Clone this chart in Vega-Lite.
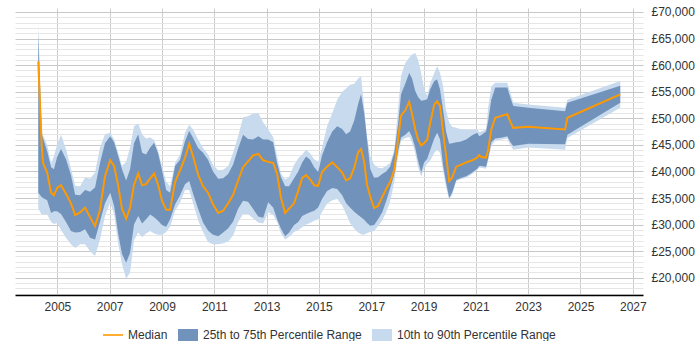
{
  "$schema": "https://vega.github.io/schema/vega-lite/v6.json",
  "width": 628,
  "height": 287,
  "padding": {"left": 15, "top": 5, "right": 0, "bottom": 0},
  "background": "white",
  "config": {
    "view": {"stroke": null},
    "font": "Liberation Sans",
    "axis": {"labelFont": "Liberation Sans", "labelFontSize": 12, "labelColor": "#333333"},
    "legend": {"labelFont": "Liberation Sans", "labelFontSize": 12, "labelColor": "#333333"}
  },
  "data": {
    "values": [
      {"t": 2004.27, "p10": 33000, "p25": 36000, "med": 60700, "p75": 66000, "p90": 67800},
      {"t": 2004.40, "p10": 31900, "p25": 35200, "med": 44900, "p75": 47000, "p90": 47500},
      {"t": 2004.45, "p10": 31900, "p25": 35000, "med": 41600, "p75": 46300, "p90": 46800},
      {"t": 2004.61, "p10": 31900, "p25": 34600, "med": 39800, "p75": 43800, "p90": 45000},
      {"t": 2004.76, "p10": 30500, "p25": 32200, "med": 36000, "p75": 40800, "p90": 41500},
      {"t": 2004.87, "p10": 30100, "p25": 32500, "med": 35500, "p75": 40400, "p90": 42900},
      {"t": 2004.99, "p10": 30300, "p25": 32500, "med": 36900, "p75": 42700, "p90": 45000},
      {"t": 2005.14, "p10": 29000, "p25": 32000, "med": 37400, "p75": 44200, "p90": 46900},
      {"t": 2005.33, "p10": 27500, "p25": 30500, "med": 35800, "p75": 42300, "p90": 44200},
      {"t": 2005.52, "p10": 26300, "p25": 28800, "med": 34000, "p75": 39300, "p90": 40500},
      {"t": 2005.68, "p10": 25600, "p25": 28500, "med": 31800, "p75": 35600, "p90": 37300},
      {"t": 2005.87, "p10": 26300, "p25": 28600, "med": 32300, "p75": 35500, "p90": 37200},
      {"t": 2006.06, "p10": 26300, "p25": 29100, "med": 33200, "p75": 36500, "p90": 38900},
      {"t": 2006.25, "p10": 25000, "p25": 27500, "med": 31400, "p75": 36200, "p90": 38600},
      {"t": 2006.44, "p10": 24100, "p25": 27200, "med": 29700, "p75": 37000, "p90": 39800},
      {"t": 2006.63, "p10": 27200, "p25": 30600, "med": 32800, "p75": 41600, "p90": 44500},
      {"t": 2006.82, "p10": 31600, "p25": 34000, "med": 39100, "p75": 45300, "p90": 47000},
      {"t": 2007.02, "p10": 34100, "p25": 36000, "med": 42100, "p75": 46600, "p90": 47300},
      {"t": 2007.17, "p10": 32000, "p25": 33500, "med": 41000, "p75": 45500, "p90": 46000},
      {"t": 2007.32, "p10": 26600, "p25": 28400, "med": 37500, "p75": 43000, "p90": 43600},
      {"t": 2007.47, "p10": 22600, "p25": 24500, "med": 33000, "p75": 40400, "p90": 41000},
      {"t": 2007.63, "p10": 19800, "p25": 22800, "med": 31100, "p75": 38300, "p90": 41800},
      {"t": 2007.78, "p10": 21000, "p25": 24700, "med": 33200, "p75": 40400, "p90": 44500},
      {"t": 2007.93, "p10": 27000, "p25": 30000, "med": 37500, "p75": 45300, "p90": 48500},
      {"t": 2008.09, "p10": 28500, "p25": 31600, "med": 39600, "p75": 47000, "p90": 49000},
      {"t": 2008.24, "p10": 27600, "p25": 30200, "med": 37400, "p75": 43500, "p90": 47000},
      {"t": 2008.39, "p10": 28300, "p25": 31000, "med": 37600, "p75": 43200, "p90": 46200},
      {"t": 2008.55, "p10": 28800, "p25": 31900, "med": 38700, "p75": 44500, "p90": 46400},
      {"t": 2008.70, "p10": 28300, "p25": 31400, "med": 39600, "p75": 45400, "p90": 45900},
      {"t": 2008.85, "p10": 28100, "p25": 30700, "med": 37500, "p75": 43400, "p90": 43900},
      {"t": 2009.00, "p10": 28100, "p25": 29900, "med": 34500, "p75": 40200, "p90": 41000},
      {"t": 2009.16, "p10": 28600, "p25": 29600, "med": 32800, "p75": 36500, "p90": 38000},
      {"t": 2009.31, "p10": 29600, "p25": 31000, "med": 32800, "p75": 36000, "p90": 37200},
      {"t": 2009.50, "p10": 32600, "p25": 33800, "med": 38000, "p75": 41000, "p90": 41600},
      {"t": 2009.69, "p10": 34100, "p25": 35500, "med": 40200, "p75": 42200, "p90": 43200},
      {"t": 2009.88, "p10": 36500, "p25": 37600, "med": 42600, "p75": 45700, "p90": 47300},
      {"t": 2010.04, "p10": 36500, "p25": 38200, "med": 45200, "p75": 47600, "p90": 48800},
      {"t": 2010.19, "p10": 34000, "p25": 35800, "med": 42800, "p75": 46300, "p90": 47900},
      {"t": 2010.38, "p10": 30800, "p25": 33000, "med": 39400, "p75": 44400, "p90": 46000},
      {"t": 2010.57, "p10": 28600, "p25": 30400, "med": 37200, "p75": 43500, "p90": 44400},
      {"t": 2010.76, "p10": 26700, "p25": 28900, "med": 36000, "p75": 42200, "p90": 43200},
      {"t": 2010.95, "p10": 26300, "p25": 28100, "med": 33800, "p75": 40000, "p90": 41200},
      {"t": 2011.15, "p10": 26300, "p25": 27800, "med": 32200, "p75": 38600, "p90": 40200},
      {"t": 2011.34, "p10": 26500, "p25": 28500, "med": 32600, "p75": 38700, "p90": 40300},
      {"t": 2011.53, "p10": 26800, "p25": 29300, "med": 34000, "p75": 39500, "p90": 41000},
      {"t": 2011.72, "p10": 28000, "p25": 30600, "med": 35600, "p75": 41300, "p90": 43500},
      {"t": 2011.91, "p10": 30500, "p25": 33000, "med": 38300, "p75": 44300, "p90": 46600},
      {"t": 2012.10, "p10": 32000, "p25": 34500, "med": 40800, "p75": 46900, "p90": 50200},
      {"t": 2012.29, "p10": 32000, "p25": 34300, "med": 41900, "p75": 46100, "p90": 50400},
      {"t": 2012.48, "p10": 31200, "p25": 33000, "med": 43000, "p75": 46000, "p90": 50900},
      {"t": 2012.68, "p10": 30400, "p25": 31500, "med": 43300, "p75": 46600, "p90": 51000},
      {"t": 2012.87, "p10": 30200, "p25": 31300, "med": 42100, "p75": 46000, "p90": 49200},
      {"t": 2013.06, "p10": 32300, "p25": 34200, "med": 41800, "p75": 46000, "p90": 47900},
      {"t": 2013.25, "p10": 31800, "p25": 33200, "med": 41600, "p75": 45500, "p90": 46500},
      {"t": 2013.40, "p10": 30500, "p25": 31000, "med": 39600, "p75": 41600, "p90": 42900},
      {"t": 2013.55, "p10": 28300, "p25": 29200, "med": 35000, "p75": 38900, "p90": 39600},
      {"t": 2013.71, "p10": 27200, "p25": 27800, "med": 32200, "p75": 37200, "p90": 38500},
      {"t": 2013.86, "p10": 27700, "p25": 28500, "med": 33000, "p75": 37200, "p90": 39000},
      {"t": 2014.05, "p10": 28600, "p25": 29900, "med": 34000, "p75": 38700, "p90": 41200},
      {"t": 2014.21, "p10": 29000, "p25": 30500, "med": 36400, "p75": 40000, "p90": 42500},
      {"t": 2014.36, "p10": 29500, "p25": 31600, "med": 38800, "p75": 41700, "p90": 43200},
      {"t": 2014.51, "p10": 30000, "p25": 32000, "med": 39300, "p75": 42800, "p90": 44100},
      {"t": 2014.66, "p10": 30300, "p25": 32300, "med": 38500, "p75": 42200, "p90": 43400},
      {"t": 2014.82, "p10": 30700, "p25": 32600, "med": 37400, "p75": 40800, "p90": 42300},
      {"t": 2014.97, "p10": 31000, "p25": 33200, "med": 37300, "p75": 39900, "p90": 41800},
      {"t": 2015.12, "p10": 32400, "p25": 34800, "med": 39900, "p75": 43000, "p90": 44500},
      {"t": 2015.31, "p10": 33900, "p25": 36300, "med": 40900, "p75": 45500, "p90": 48500},
      {"t": 2015.51, "p10": 34600, "p25": 36900, "med": 41700, "p75": 47500, "p90": 51000},
      {"t": 2015.70, "p10": 34800, "p25": 36700, "med": 40800, "p75": 48500, "p90": 53500},
      {"t": 2015.89, "p10": 33600, "p25": 35500, "med": 39800, "p75": 48000, "p90": 55000},
      {"t": 2016.04, "p10": 32000, "p25": 34000, "med": 38300, "p75": 47000, "p90": 55600},
      {"t": 2016.19, "p10": 30300, "p25": 33200, "med": 38700, "p75": 47500, "p90": 56300},
      {"t": 2016.35, "p10": 29200, "p25": 32400, "med": 40700, "p75": 49600, "p90": 56500},
      {"t": 2016.50, "p10": 28500, "p25": 31800, "med": 43600, "p75": 52700, "p90": 57500},
      {"t": 2016.61, "p10": 28200, "p25": 31400, "med": 44200, "p75": 54500, "p90": 57900},
      {"t": 2016.73, "p10": 28100, "p25": 30900, "med": 41800, "p75": 51000, "p90": 52000},
      {"t": 2016.84, "p10": 28400, "p25": 30300, "med": 37500, "p75": 46000, "p90": 46500},
      {"t": 2016.96, "p10": 28600, "p25": 29800, "med": 35300, "p75": 40500, "p90": 42900},
      {"t": 2017.11, "p10": 28800, "p25": 29900, "med": 33100, "p75": 38800, "p90": 41300},
      {"t": 2017.26, "p10": 29700, "p25": 31000, "med": 33500, "p75": 38900, "p90": 40700},
      {"t": 2017.42, "p10": 30800, "p25": 32300, "med": 35200, "p75": 39500, "p90": 40600},
      {"t": 2017.57, "p10": 32300, "p25": 34400, "med": 36700, "p75": 40000, "p90": 41000},
      {"t": 2017.72, "p10": 34300, "p25": 36800, "med": 38000, "p75": 40900, "p90": 41600},
      {"t": 2017.88, "p10": 38000, "p25": 39500, "med": 40300, "p75": 43500, "p90": 44000},
      {"t": 2018.03, "p10": 43000, "p25": 44000, "med": 46200, "p75": 49000, "p90": 52000},
      {"t": 2018.14, "p10": 45800, "p25": 46400, "med": 50500, "p75": 54500, "p90": 58000},
      {"t": 2018.30, "p10": 46300, "p25": 46900, "med": 51500, "p75": 56500, "p90": 60400},
      {"t": 2018.45, "p10": 46500, "p25": 47600, "med": 53100, "p75": 58500, "p90": 61400},
      {"t": 2018.56, "p10": 45500, "p25": 46500, "med": 50800, "p75": 57500, "p90": 62000},
      {"t": 2018.68, "p10": 43500, "p25": 44500, "med": 48000, "p75": 55200, "p90": 62300},
      {"t": 2018.79, "p10": 40800, "p25": 42000, "med": 46000, "p75": 54000, "p90": 61000},
      {"t": 2018.91, "p10": 39000, "p25": 39800, "med": 44900, "p75": 53300, "p90": 58500},
      {"t": 2019.02, "p10": 40600, "p25": 41700, "med": 45300, "p75": 53400, "p90": 55600},
      {"t": 2019.14, "p10": 41500, "p25": 42400, "med": 46000, "p75": 53600, "p90": 54200},
      {"t": 2019.25, "p10": 42000, "p25": 44000, "med": 49000, "p75": 55400, "p90": 56500},
      {"t": 2019.41, "p10": 43500, "p25": 46200, "med": 52600, "p75": 57000, "p90": 58500},
      {"t": 2019.52, "p10": 44100, "p25": 47300, "med": 53200, "p75": 57300, "p90": 59800},
      {"t": 2019.63, "p10": 43500, "p25": 46000, "med": 52300, "p75": 55400, "p90": 58500},
      {"t": 2019.75, "p10": 40000, "p25": 41000, "med": 47300, "p75": 51500, "p90": 56000},
      {"t": 2019.86, "p10": 37000, "p25": 38000, "med": 43000, "p75": 47500, "p90": 51500},
      {"t": 2019.98, "p10": 34800, "p25": 35000, "med": 38200, "p75": 45200, "p90": 49200},
      {"t": 2020.09, "p10": 35500, "p25": 36000, "med": 38800, "p75": 45300, "p90": 48400},
      {"t": 2020.25, "p10": 38200, "p25": 38400, "med": 40900, "p75": 45500, "p90": 48200},
      {"t": 2020.40, "p10": 38500, "p25": 38700, "med": 41200, "p75": 45600, "p90": 48000},
      {"t": 2020.63, "p10": 38800, "p25": 39100, "med": 41700, "p75": 46000, "p90": 47900},
      {"t": 2020.86, "p10": 39500, "p25": 39800, "med": 42100, "p75": 46800, "p90": 47900},
      {"t": 2021.05, "p10": 40200, "p25": 40500, "med": 42600, "p75": 47300, "p90": 47900},
      {"t": 2021.13, "p10": 40700, "p25": 41000, "med": 43100, "p75": 46600, "p90": 47400},
      {"t": 2021.20, "p10": 40700, "p25": 41000, "med": 42700, "p75": 46800, "p90": 47500},
      {"t": 2021.39, "p10": 40500, "p25": 40900, "med": 42600, "p75": 47500, "p90": 47900},
      {"t": 2021.47, "p10": 42000, "p25": 42500, "med": 44100, "p75": 49500, "p90": 52000},
      {"t": 2021.59, "p10": 44800, "p25": 45500, "med": 47900, "p75": 53500, "p90": 56000},
      {"t": 2021.74, "p10": 45800, "p25": 46200, "med": 50100, "p75": 55800, "p90": 56700},
      {"t": 2022.01, "p10": 46000, "p25": 46400, "med": 50500, "p75": 55800, "p90": 56700},
      {"t": 2022.20, "p10": 46200, "p25": 46600, "med": 50800, "p75": 55800, "p90": 56700},
      {"t": 2022.31, "p10": 45000, "p25": 45600, "med": 49400, "p75": 54000, "p90": 55000},
      {"t": 2022.43, "p10": 44100, "p25": 44800, "med": 48200, "p75": 52300, "p90": 52900},
      {"t": 2023.00, "p10": 44500, "p25": 45200, "med": 48400, "p75": 52000, "p90": 52600},
      {"t": 2024.41, "p10": 44100, "p25": 45100, "med": 47900, "p75": 51300, "p90": 52000},
      {"t": 2024.50, "p10": 46300, "p25": 46900, "med": 50100, "p75": 52900, "p90": 53500},
      {"t": 2026.52, "p10": 52000, "p25": 52900, "med": 54500, "p75": 56100, "p90": 57000}
    ]
  },
  "encoding": {
    "x": {
      "field": "t",
      "type": "quantitative",
      "scale": {"domain": [2003.38, 2027.39], "nice": false, "zero": false},
      "axis": {
        "title": null,
        "values": [2005, 2007, 2009, 2011, 2013, 2015, 2017, 2019, 2021, 2023, 2025, 2027],
        "format": "d",
        "grid": true,
        "gridColor": "#cccccc",
        "domainColor": "#000000",
        "domainWidth": 1.5,
        "ticks": false,
        "labelPadding": 6
      }
    }
  },
  "layer": [
    {
      "mark": {"type": "area", "opacity": 1},
      "encoding": {
        "y": {
          "field": "p90",
          "type": "quantitative",
          "scale": {"domain": [16750, 70750], "nice": false, "zero": false},
          "axis": {
            "orient": "left",
            "title": null,
            "values": [17000, 18000, 19000, 21000, 22000, 23000, 24000, 26000, 27000, 28000, 29000, 31000, 32000, 33000, 34000, 36000, 37000, 38000, 39000, 41000, 42000, 43000, 44000, 46000, 47000, 48000, 49000, 51000, 52000, 53000, 54000, 56000, 57000, 58000, 59000, 61000, 62000, 63000, 64000, 66000, 67000, 68000, 69000],
            "grid": true,
            "gridColor": "#e6e6e6",
            "labels": false,
            "ticks": false,
            "domain": false
          }
        },
        "y2": {"field": "p10"},
        "color": {
          "datum": "10th to 90th Percentile Range",
          "type": "nominal",
          "scale": {
            "domain": ["Median", "25th to 75th Percentile Range", "10th to 90th Percentile Range"],
            "range": ["#ff9900", "#7092bb", "#c8daed"]
          },
          "legend": {
            "title": null,
            "orient": "none",
            "legendX": 88,
            "legendY": 317,
            "direction": "horizontal",
            "symbolSize": 400,
            "labelOffset": 5,
            "columnPadding": 10,
            "encoding": {
              "symbols": {
                "shape": {"value": {"expr": "datum.value === 'Median' ? 'M-1,-0.08H1V0.08H-1Z' : 'M-1,-0.6H1V0.6H-1Z'"}},
                "fill": {"value": {"expr": "datum.value === 'Median' ? '#ff9900' : (datum.value === '25th to 75th Percentile Range' ? '#87a5c6' : '#cfdff0')"}},
                "stroke": {"value": "transparent"},
                "strokeWidth": {"value": 0},
                "opacity": {"value": 1},
                "fillOpacity": {"value": 1}
              }
            }
          }
        }
      }
    },
    {
      "mark": {"type": "area", "opacity": 1},
      "encoding": {
        "y": {
          "field": "p75",
          "type": "quantitative",
          "axis": {
            "orient": "right",
            "title": null,
            "values": [20000, 25000, 30000, 35000, 40000, 45000, 50000, 55000, 60000, 65000, 70000],
            "labelExpr": "'£' + format(datum.value, ',')",
            "grid": true,
            "gridColor": "#c8c8c8",
            "ticks": false,
            "domain": false,
            "labelPadding": 8
          }
        },
        "y2": {"field": "p25"},
        "color": {"datum": "25th to 75th Percentile Range", "type": "nominal"}
      }
    },
    {
      "mark": {"type": "line", "strokeWidth": 2},
      "encoding": {
        "y": {"field": "med", "type": "quantitative", "axis": null},
        "color": {"datum": "Median", "type": "nominal"}
      }
    }
  ],
  "resolve": {"axis": {"y": "independent"}}
}
